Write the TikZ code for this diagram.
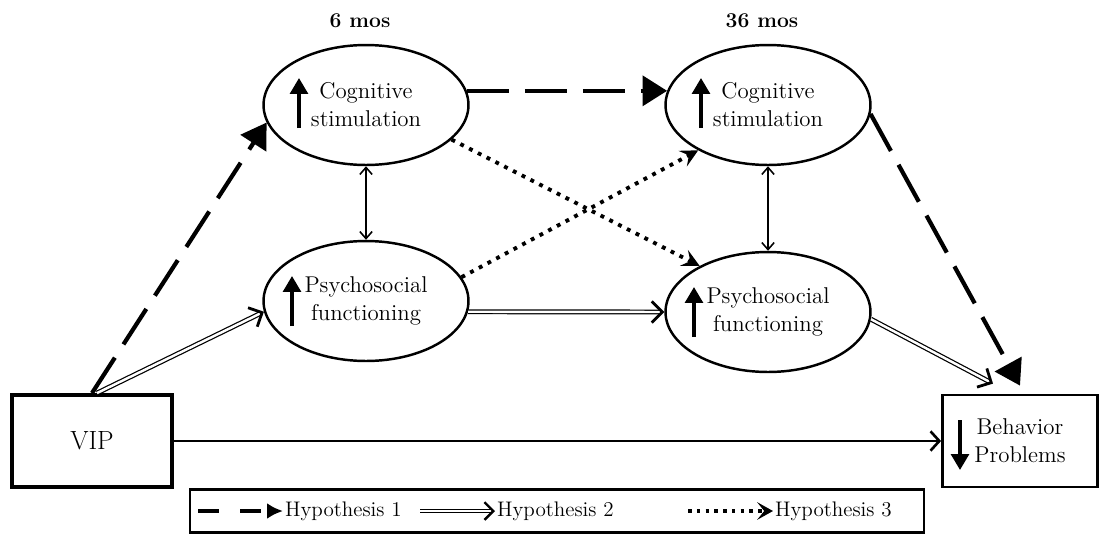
\documentclass[tikz,border=0pt]{standalone}
\usetikzlibrary{shapes.geometric,arrows.meta}
\begin{document}
\begin{tikzpicture}[
    x=0.02cm, y=-0.02cm,
    construct/.style={ellipse, draw, line width=1.4pt, minimum width=4.1cm, minimum height=2.4cm, align=center, font=\fontsize{13}{16}\selectfont},
    outcome/.style={rectangle, draw, minimum width=3.1cm, minimum height=1.84cm, align=center},
    hypone/.style={line width=2.4pt, dash pattern=on 24pt off 9pt, -{Triangle[length=14pt,width=17pt]}},
    hyptwo/.style={double, double distance=1.4pt, line width=0.7pt, -{Straight Barb[length=6pt,width=12pt,line width=1.6pt]}},
    hypthree/.style={line width=2.2pt, dash pattern=on 2.2pt off 3.4pt, -{Stealth[length=10pt,width=10pt,inset=4pt]}},
    assoc/.style={line width=0.9pt, {Straight Barb[length=4pt,width=7pt]}-{Straight Barb[length=4pt,width=7pt]}},
    change/.style={line width=2pt, -{Triangle[length=9pt,width=10pt]}},
    legtext/.style={anchor=west, inner sep=1pt, font=\fontsize{12}{14}\selectfont}
]
\useasboundingbox (0,0) rectangle (1100,535);

% Time points
\node[font=\fontsize{12}{14}\selectfont\bfseries] (t6) at (360,21) {6 mos};
\node[font=\fontsize{12}{14}\selectfont\bfseries] (t36) at (762,21) {36 mos};

% Constructs
\node[construct] (cog6) at (366,105) {Cognitive\\stimulation};
\node[construct] (cog36) at (768,105) {Cognitive\\stimulation};
\node[construct] (psy6) at (366,301) {Psychosocial\\functioning};
\node[construct] (psy36) at (768,312) {Psychosocial\\functioning};

% Predictor and outcome
\node[outcome, line width=2.2pt, minimum width=3.2cm, font=\fontsize{15}{18}\selectfont] (vip) at (92,441) {VIP};
\node[outcome, line width=1.6pt, font=\fontsize{13}{16}\selectfont] (bp) at (1020,441) {Behavior\\Problems};

% Direction of change
\draw[change] ([shift={(-67,23)}]cog6.center) -- ++(0,-50);
\draw[change] ([shift={(-67,23)}]cog36.center) -- ++(0,-50);
\draw[change] ([shift={(-74,25)}]psy6.center) -- ++(0,-50);
\draw[change] ([shift={(-74,25)}]psy36.center) -- ++(0,-50);
\draw[change] ([shift={(-60,-21)}]bp.center) -- ++(0,50);

% Hypothesis 1
\draw[hypone] (vip.north) -- (cog6.190);
\draw[hypone] (cog6.8) -- (cog36.172);
\draw[hypone] (cog36.-5) -- ([yshift=0.16cm]bp.north);

% Hypothesis 2
\draw[hyptwo] ([xshift=0.1cm]vip.north) -- (psy6.186);
\draw[hyptwo] (psy6.-6) -- (psy36.west);
\draw[hyptwo] (psy36.-4) -- ([xshift=-0.54cm,yshift=0.2cm]bp.north);

% Hypothesis 3
\draw[hypthree] (cog6.-22) -- (psy36.146);
\draw[hypthree] (psy6.14) -- (cog36.213);

% Concurrent associations
\draw[assoc] (cog6.south) -- (psy6.north);
\draw[assoc] (cog36.south) -- (psy36.north);

% Direct path
\draw[line width=1.5pt, -{Straight Barb[length=5pt,width=11pt]}] (vip.east) -- (bp.west);

% Legend
\node[draw, line width=1.2pt, minimum width=14.7cm, minimum height=0.86cm] (legend) at (557,511) {};
\node[legtext] (h1) at (283,511) {Hypothesis 1};
\node[legtext] (h2) at (495,511) {Hypothesis 2};
\node[legtext] (h3) at (773,511) {Hypothesis 3};
\coordinate (h1s) at (198,511);
\coordinate (h2s) at (420,511);
\coordinate (h3s) at (688,511);
\draw[line width=1.8pt, dash pattern=on 12pt off 12pt, -{Latex[length=9pt,width=9pt]}] (h1s) -- (h1.west);
\draw[double, double distance=1.4pt, line width=0.7pt, -{Straight Barb[length=5pt,width=10pt,line width=1.4pt]}] (h2s) -- (h2.west);
\draw[line width=2pt, dash pattern=on 2pt off 3pt, -{Stealth[length=9pt,width=10pt,inset=4pt]}] (h3s) -- (h3.west);

\end{tikzpicture}
\end{document}
